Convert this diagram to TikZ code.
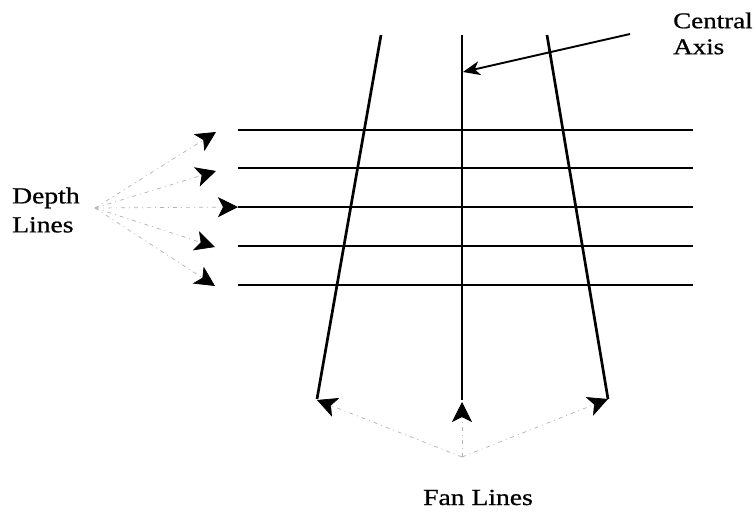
\documentclass[tikz,border=0pt]{standalone}
\usepackage{fontspec}
\setmainfont{Liberation Serif}[FakeStretch=1.2,FakeBold=0.8]
\usetikzlibrary{arrows.meta}
\begin{document}
\begin{tikzpicture}[x=1pt,y=-1pt,
  gridline/.style={line width=2.7pt},
  leader/.style={draw=black!30, line width=0.7pt, dash pattern=on 4pt off 4pt on 1pt off 4pt,
    -{Stealth[length=20pt,width=20pt,inset=5pt,color=black]}},
  axisarrow/.style={line width=1.9pt, -{Stealth[length=17pt,width=14pt,inset=5pt]}},
  lbl/.style={align=left, inner sep=0pt}]
\useasboundingbox (0,0) rectangle (756,512);

% fan lines
\coordinate (lt) at (381,35);  \coordinate (lb) at (317,399);
\coordinate (ct) at (462,35);  \coordinate (cb) at (462,400);
\coordinate (rt) at (547,35);  \coordinate (rb) at (608,399);
\draw[gridline] (lt) -- (lb);
\draw[gridline] (ct) -- (cb);
\draw[gridline] (rt) -- (rb);

% depth lines
\foreach \i/\y in {1/130,2/168,3/207,4/246,5/285}{
  \coordinate (d\i a) at (238,\y);
  \coordinate (d\i b) at (693,\y);
  \draw[gridline] (d\i a) -- (d\i b);
}

% labels
\node[lbl, anchor=west, font=\fontsize{23}{29}\selectfont] (depth) at (12,210) {Depth\\Lines};
\node[lbl, anchor=west, font=\fontsize{22.5}{26}\selectfont] (axis) at (673,33.5) {Central\\Axis};
\node[lbl, anchor=base west, font=\fontsize{23}{26}\selectfont] (fan) at (423,505) {Fan Lines};

% leader origins
\coordinate (dorig) at (95,208);
\coordinate (forig) at (462,457);
\coordinate (aorig) at (630,34);

\coordinate (dt1) at (216,132);
\coordinate (dt2) at (216,171);
\coordinate (dt3) at (238,207);
\coordinate (dt4) at (215,247);
\coordinate (dt5) at (215,286);
\foreach \i in {1,...,5}{
  \draw[leader] (dorig) -- (dt\i);
}

\coordinate (ft1) at (317,400);
\coordinate (ft2) at (462,402);
\coordinate (ft3) at (608,399);
\foreach \i in {1,2,3}{
  \draw[leader] (forig) -- (ft\i);
}

\coordinate (atip) at (463,72);
\draw[axisarrow] (aorig) -- (atip);
\end{tikzpicture}
\end{document}
